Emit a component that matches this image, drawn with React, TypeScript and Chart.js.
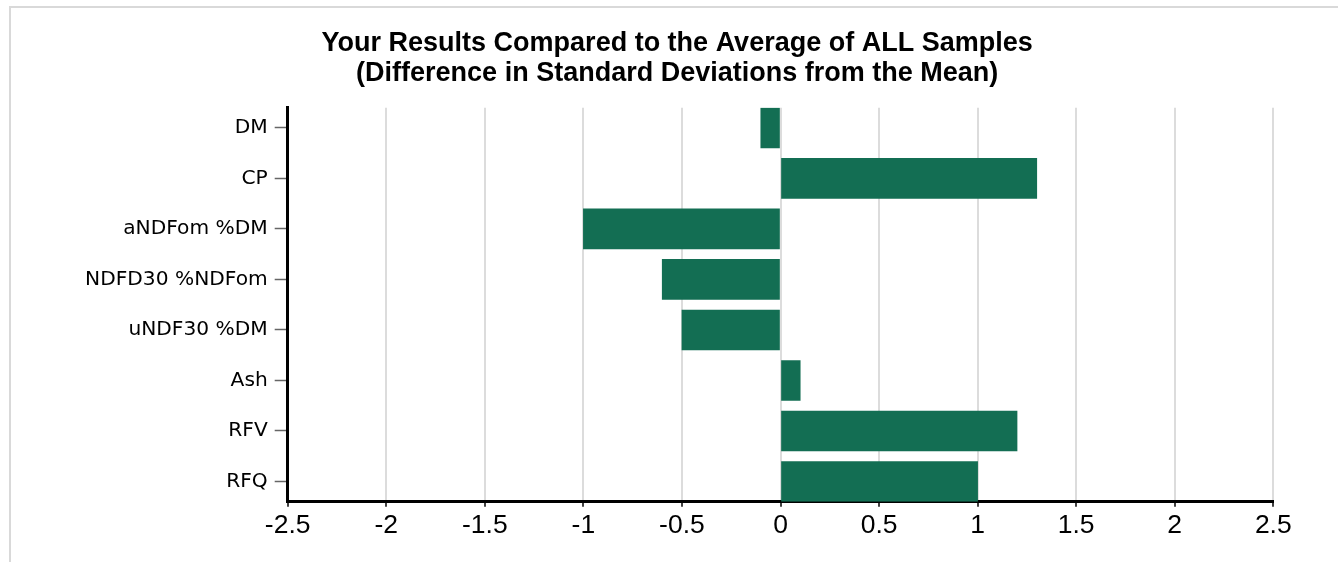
import { useEffect, useRef } from "react";
import { Chart, registerables } from "chart.js";

Chart.register(...registerables);

const categories = ["DM", "CP", "aNDFom %DM", "NDFD30 %NDFom", "uNDF30 %DM", "Ash", "RFV", "RFQ"];
const values = [-0.1, 1.3, -1.0, -0.6, -0.5, 0.1, 1.2, 1.0];
const xTicks = [-2.5, -2, -1.5, -1, -0.5, 0, 0.5, 1, 1.5, 2, 2.5];
const titleLines = [
  "Your Results Compared to the Average of ALL Samples",
  "(Difference in Standard Deviations from the Mean)",
];

export default function App() {
  const ref = useRef<HTMLCanvasElement>(null);
  useEffect(() => {
    const chart = new Chart(ref.current!, {
      type: "bar",
      data: {
        datasets: [
          {
            data: values.map((v, i) => ({ x: v, y: i })),
            backgroundColor: "#136e53",
            borderWidth: 0,
            barThickness: 40,
          },
        ],
      },
      options: {
        indexAxis: "y",
        animation: false,
        responsive: false,
        layout: { padding: { left: 71, right: 70.7, top: 0, bottom: 0 } },
        plugins: {
          legend: { display: false },
          tooltip: { enabled: false },
          title: {
            display: true,
            text: titleLines,
            color: "#000",
            font: { family: "'Liberation Sans', Arial, sans-serif", size: 27, weight: "bold", lineHeight: 30 / 27 },
            padding: { top: 28.5, bottom: 19.2 },
          },
        },
        scales: {
          x: {
            type: "linear",
            min: -2.5,
            max: 2.5,
            afterBuildTicks: (s: any) => {
              s.ticks = xTicks.map((v) => ({ value: v }));
            },
            afterFit: (s: any) => {
              s.height = 60.3;
            },
            ticks: {
              callback: (v: any) => String(v),
              color: "#000",
              font: { family: "'Liberation Sans', Arial, sans-serif", size: 26.5 },
              padding: 3,
              maxRotation: 0,
              autoSkip: false,
            },
            grid: {
              color: "#dcdcdc",
              lineWidth: 2,
              tickColor: "#000",
              tickLength: 5,
              tickWidth: 1.5,
            },
            border: { color: "#000", width: 3 },
          },
          y: {
            type: "linear",
            reverse: true,
            min: -0.4,
            max: 7.4,
            offset: false,
            afterBuildTicks: (s: any) => {
              s.ticks = categories.map((_, i) => ({ value: i }));
            },
            afterFit: (s: any) => {
              s.width = 206.7;
            },
            ticks: {
              callback: (v: any) => categories[v] ?? "",
              color: "#000",
              font: { family: "'DejaVu Sans', Verdana, sans-serif", size: 20.2 },
              padding: 7,
              autoSkip: false,
            },
            grid: {
              offset: false,
              drawOnChartArea: false,
              tickLength: 13,
              tickColor: "#666666",
              tickWidth: 1.5,
            },
            border: { color: "#000", width: 3 },
          },
        },
      },
    } as any);
    return () => chart.destroy();
  }, []);

  return (
    <div
      style={{
        position: "fixed",
        left: 0,
        top: 0,
        width: 1338,
        height: 562,
        overflow: "hidden",
        background: "#fff",
      }}
    >
      <div
        style={{
          position: "absolute",
          left: 9,
          top: 6,
          width: 2000,
          height: 2000,
          borderTop: "2px solid #d9d9d9",
          borderLeft: "2px solid #d9d9d9",
        }}
      />
      <canvas
        ref={ref}
        width={1334}
        height={562}
        style={{ position: "absolute", left: 10, top: 0, display: "block" }}
      />
    </div>
  );
}
